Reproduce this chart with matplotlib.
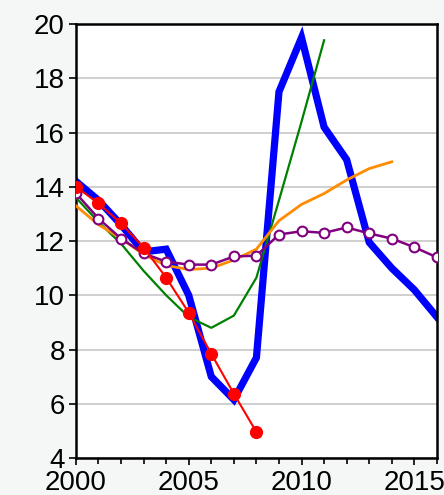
import matplotlib
matplotlib.use("Agg")
import matplotlib.pyplot as plt
from matplotlib.ticker import MultipleLocator

years_blue = list(range(2000, 2017))
blue = [14.2, 13.5, 12.6, 11.6, 11.7, 10.0, 7.0, 6.15, 7.7, 17.5, 19.5, 16.2, 15.0, 11.95, 11.0, 10.2, 9.2]

years_green = list(range(2000, 2012))
green = [13.6, 12.7, 11.9, 10.9, 10.0, 9.2, 8.8, 9.25, 10.65, 13.5, 16.4, 19.4]

years_orange = list(range(2000, 2015))
orange = [13.3, 12.6, 12.1, 11.5, 11.1, 10.95, 11.0, 11.3, 11.7, 12.75, 13.35, 13.75, 14.25, 14.67, 14.92]

years_purple = list(range(2000, 2017))
purple = [13.76, 12.83, 12.09, 11.54, 11.24, 11.13, 11.13, 11.43, 11.46, 12.24, 12.36, 12.3, 12.5, 12.28, 12.09, 11.77, 11.4]

years_red = list(range(2000, 2009))
red = [14.0, 13.39, 12.65, 11.76, 10.65, 9.36, 7.84, 6.37, 4.96]

plt.rcParams['font.family'] = ['Liberation Sans', 'DejaVu Sans']

fig = plt.figure(figsize=(4.44, 4.95), dpi=100, facecolor='#f5f7f6')
ax = fig.add_axes([0.171, 0.0747, 0.813, 0.8768])
ax.set_facecolor('white')

ax.plot(years_blue, blue, color='#0000ff', lw=5.2, solid_joinstyle='miter', zorder=2)
ax.plot(years_green, green, color='#008000', lw=1.6, zorder=3)
ax.plot(years_orange, orange, color='#ff8c00', lw=2.0, zorder=3)
ax.plot(years_purple, purple, color='#800080', lw=1.8, marker='o', ms=7,
        mfc='white', mec='#800080', mew=1.5, zorder=4)
ax.plot(years_red, red, color='#ff0000', lw=1.5, marker='o', ms=8.5,
        mfc='#ff0000', mec='#ff0000', zorder=5)

ax.set_xlim(2000, 2016)
ax.set_ylim(4, 20)
ax.xaxis.set_major_locator(MultipleLocator(5))
ax.xaxis.set_minor_locator(MultipleLocator(1))
ax.yaxis.set_major_locator(MultipleLocator(2))
ax.yaxis.grid(True, color='#cccccc', lw=1.3)
ax.set_axisbelow(True)
ax.tick_params(axis='both', which='major', direction='out', length=5, width=1.2,
               labelsize=20, color='black')
ax.tick_params(axis='x', which='minor', direction='out', length=4, width=1.2)
ax.tick_params(axis='x', pad=3.5)
ax.tick_params(axis='y', pad=3)
for s in ax.spines.values():
    s.set_linewidth(1.8)
    s.set_color('black')

fig.savefig('out.png', dpi=100, facecolor=fig.get_facecolor())
